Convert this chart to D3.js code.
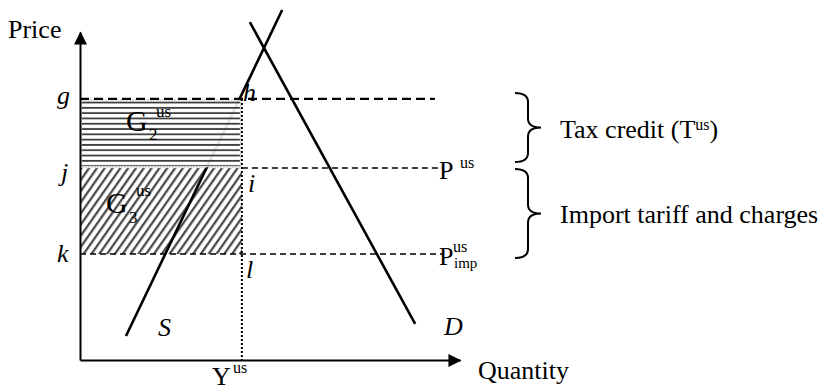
<!DOCTYPE html>
<html lang="en">
<head>
<meta charset="UTF-8">
<title>Tax credit and import tariff</title>
<script src="https://d3js.org/d3.v7.min.js"></script>
<style>
    body {margin: 0; background: white;}
    text {font-family: "Times New Roman", "Liberation Serif", serif; fill: black;}
    .it {font-style: italic;}
</style>
</head>
<body>
<svg id="main" width="827" height="390"></svg>
<script>
    // price levels (axis units 0..10)
    let levelNames = ['g', 'j', 'k'];
    let levelPrices = [7.96, 5.85, 3.23];
    let levelEnds = [9.34, 9.55, 9.55];   // where the dashed lines stop
    let quantityUS = 4.26;                 // Y^us
    // [quantity, price] end points
    let supply = [[1.21, 0.73], [5.32, 10.67]];
    let demand = [[4.47, 10.30], [8.82, 1.10]];
    let braceTexts = ['Tax credit (T', 'Import tariff and charges'];

    let svg = d3.select('svg#main');
    let x = d3.scaleLinear().domain([0, 10]).range([80, 460]);
    let y = d3.scaleLinear().domain([0, 10]).range([360, 32]);
    let pg = levelPrices[0], pj = levelPrices[1], pk = levelPrices[2];

    let defs = svg.append('defs');
    defs.append('marker').attr('id', 'arrow')
        .attr('viewBox', '0 0 14 14').attr('refX', 13).attr('refY', 7)
        .attr('markerWidth', 14).attr('markerHeight', 13)
        .attr('markerUnits', 'userSpaceOnUse').attr('orient', 'auto')
        .append('path').attr('d', 'M0,0L14,7L0,14z').attr('fill', 'black');
    let hp = defs.append('pattern').attr('id', 'horiz')
        .attr('patternUnits', 'userSpaceOnUse').attr('width', 10).attr('height', 5.3)
        .attr('y', y(pg) + 1);
    hp.append('line').attr('x1', 0).attr('x2', 10).attr('y1', 2.6).attr('y2', 2.6)
        .attr('stroke', '#3c3c3c').attr('stroke-width', 1.8);
    let dp = defs.append('pattern').attr('id', 'diag')
        .attr('patternUnits', 'userSpaceOnUse').attr('width', 6.4).attr('height', 10)
        .attr('patternTransform', 'rotate(35)');
    dp.append('line').attr('x1', 3).attr('x2', 3).attr('y1', 0).attr('y2', 10)
        .attr('stroke', '#444').attr('stroke-width', 2.2);

    // G3 area (between k and j)
    svg.append('rect')
        .attr('x', x(0)).attr('y', y(pj))
        .attr('width', x(quantityUS) - x(0)).attr('height', y(pk) - y(pj))
        .attr('fill', 'url(#diag)');

    let line = d3.line().x(d => x(d[0])).y(d => y(d[1]));
    svg.append('path').datum(supply).attr('d', line)
        .attr('stroke', 'black').attr('stroke-width', 2.6).attr('fill', 'none');

    // G2 area (between j and g), it hides the supply line
    svg.append('rect')
        .attr('x', x(0) + 1).attr('y', y(pg) + 1)
        .attr('width', x(quantityUS) - x(0) - 2).attr('height', y(pj) - y(pg) - 2)
        .attr('fill', 'white').attr('fill-opacity', 0.9)
        .attr('stroke', '#bbb').attr('stroke-dasharray', '2,1');
    svg.append('rect')
        .attr('x', x(0) + 2).attr('y', y(pg) + 2)
        .attr('width', x(quantityUS) - x(0) - 4).attr('height', y(pj) - y(pg) - 4)
        .attr('fill', 'url(#horiz)');

    svg.append('path').datum(demand).attr('d', line)
        .attr('stroke', 'black').attr('stroke-width', 2.6).attr('fill', 'none');

    // dashed price lines
    svg.append('line')
        .attr('x1', x(0)).attr('x2', x(levelEnds[0]))
        .attr('y1', y(pg)).attr('y2', y(pg))
        .attr('stroke', 'black').attr('stroke-width', 2.2).attr('stroke-dasharray', '9,5');
    svg.append('line')
        .attr('x1', x(quantityUS)).attr('x2', x(levelEnds[1]))
        .attr('y1', y(pj)).attr('y2', y(pj))
        .attr('stroke', 'black').attr('stroke-width', 1.5).attr('stroke-dasharray', '6,4');
    svg.append('line')
        .attr('x1', x(0)).attr('x2', x(levelEnds[2]))
        .attr('y1', y(pk)).attr('y2', y(pk))
        .attr('stroke', 'black').attr('stroke-width', 1.5).attr('stroke-dasharray', '6,4');

    // Y^us dotted line
    svg.append('line')
        .attr('x1', x(quantityUS)).attr('x2', x(quantityUS))
        .attr('y1', y(pg)).attr('y2', y(0))
        .attr('stroke', 'black').attr('stroke-width', 2).attr('stroke-dasharray', '2,2');

    // axes with arrows
    svg.append('g').attr('transform', 'translate(0,' + y(0) + ')')
        .call(d3.axisBottom(x).ticks(0).tickSizeOuter(0));
    svg.append('g').attr('transform', 'translate(' + x(0) + ',0)')
        .call(d3.axisLeft(y).ticks(0).tickSizeOuter(0));
    svg.selectAll('.domain').attr('stroke-width', 2).attr('marker-end', 'url(#arrow)');

    // labels
    function label(t, px, py, size, cls) {
        return svg.append('text').attr('x', px).attr('y', py)
            .attr('font-size', size).attr('class', cls || null).text(t);
    }
    label('Price', 8, 38, 26);
    label('Quantity', 478, 379, 26);
    label('Y', 212, 385, 26);
    label('us', 233, 373, 16);

    let levelDy = [5, 13, 8];
    levelNames.forEach(function (n, i) {
        label(n, n == 'j' ? 61 : 57, y(levelPrices[i]) + levelDy[i], 26, 'it');
    });
    label('h', 243, y(pg) + 2, 26, 'it');
    label('i', 248, y(pj) + 24, 26, 'it');
    label('l', 246, y(pk) + 24, 26, 'it');
    label('S', 158, 336, 26, 'it');
    label('D', 444, 335, 26, 'it');

    label('G', x(0) + 46, y(pg) + 32, 30);
    label('us', x(0) + 76, y(pg) + 18, 17);
    label('2', x(0) + 69, y(pg) + 41, 17);
    label('G', x(0) + 26, y(pj) + 45, 30);
    label('us', x(0) + 56, y(pj) + 28, 17);
    label('3', x(0) + 49, y(pj) + 55, 17);

    label('P', 439, y(pj) + 11, 26);
    label('us', 460, y(pj), 16);
    label('P', 439, y(pk) + 11, 26);
    label('us', 453, y(pk) - 2, 16);
    label('imp', 454, y(pk) + 14, 15);

    // braces
    function brace(bx, y1, y2, w) {
        let r = 9, m = (y1 + y2) / 2, c = bx + w / 2;
        return 'M' + bx + ',' + y1 + 'Q' + c + ',' + y1 + ' ' + c + ',' + (y1 + r)
            + 'L' + c + ',' + (m - r) + 'Q' + c + ',' + m + ' ' + (bx + w) + ',' + m
            + 'Q' + c + ',' + m + ' ' + c + ',' + (m + r)
            + 'L' + c + ',' + (y2 - r) + 'Q' + c + ',' + y2 + ' ' + bx + ',' + y2;
    }
    let braceSpans = [[y(pg) - 6, y(pj) - 6], [y(pj) + 1, y(pk) + 4]];
    svg.selectAll('path.brace').data(braceSpans).enter().append('path')
        .attr('class', 'brace')
        .attr('d', d => brace(515, d[0], d[1], 26))
        .attr('fill', 'none').attr('stroke', 'black').attr('stroke-width', 2);

    let t1 = label(braceTexts[0], 560, (braceSpans[0][0] + braceSpans[0][1]) / 2 + 10, 26);
    t1.append('tspan').attr('font-size', 16).attr('dy', -8).text('us');
    t1.append('tspan').attr('dy', 8).text(')');
    label(braceTexts[1], 560, (braceSpans[1][0] + braceSpans[1][1]) / 2 + 9, 26);
</script>
</body>
</html>
